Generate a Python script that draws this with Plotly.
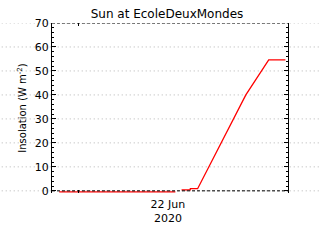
import plotly.graph_objects as go

# Data
times = [
    "2020-06-21 21:20", "2020-06-22 06:00", "2020-06-22 13:00",
    "2020-06-22 13:25",
    "2020-06-22 13:50", "2020-06-22 15:00", "2020-06-22 15:01",
    "2020-06-22 16:00", "2020-06-22 22:30", "2020-06-23 01:35",
    "2020-06-23 03:50",
]
insolation = [-0.4, -0.4, -0.4, None, 0.4, 0.4, 0.9, 0.9, 40.0, 54.6, 54.6]

x_range = ["2020-06-21 20:22", "2020-06-23 04:11"]
y_range = [-0.9, 70]
y_ticks = [0, 10, 20, 30, 40, 50, 60, 70]
x_label_vals = ["2020-06-22 12:00"]
x_label_text = ["22 Jun<br>2020"]
x_minor_vals = ["2020-06-22 00:00"]

FONT = "DejaVu Sans"

fig = go.Figure()
fig.add_trace(go.Scatter(
    x=times, y=insolation, mode="lines",
    line=dict(color="#ff0000", width=1.3),
    connectgaps=False, showlegend=False,
))
# invisible trace to make the top axis render
fig.add_trace(go.Scatter(x=x_range, y=[None, None], xaxis="x2",
                         mode="lines", showlegend=False, hoverinfo="skip"))

# extended dotted grid lines across the whole picture
for v in y_ticks:
    fig.add_shape(type="line", xref="paper", yref="y",
                  x0=-0.23, x1=1.14, y0=v, y1=v,
                  line=dict(color="#b4b4b4", width=1, dash="1px,3px"),
                  layer="below")
# dashed top/bottom borders
for yy in (y_ticks[0], y_ticks[-1]):
    fig.add_shape(type="line", xref="paper", yref="y",
                  x0=0, x1=1, y0=yy, y1=yy,
                  line=dict(color="black", width=1, dash="3px,2px"),
                  layer="above")

fig.update_layout(
    width=320, height=240,
    margin=dict(l=52, r=32, t=23, b=47),
    paper_bgcolor="white", plot_bgcolor="white",
    font=dict(family=FONT, size=10, color="black"),
    title=dict(text="Sun at EcoleDeuxMondes", x=167/320, xref="container",
               xanchor="center", y=1 - 14/240, yref="container",
               yanchor="middle", font=dict(size=12, family=FONT)),
    xaxis2=dict(type="date", range=x_range, overlaying="x", side="top",
                showticklabels=False, ticks="", showgrid=False,
                zeroline=False, showline=False,
                minor=dict(tickmode="array", tickvals=x_minor_vals,
                           ticks="inside", ticklen=3, tickcolor="black",
                           tickwidth=1, showgrid=False)),
)
fig.update_xaxes(
    selector=dict(anchor="y"),
)
fig.layout.xaxis.update(
    type="date", range=x_range,
    tickmode="array", tickvals=x_label_vals, ticktext=x_label_text,
    ticks="", ticklen=0, showgrid=False, zeroline=False, showline=False,
    ticklabelstandoff=3,
    minor=dict(tickmode="array", tickvals=x_minor_vals, ticks="inside",
               ticklen=3, tickcolor="black", tickwidth=1, showgrid=False),
    tickfont=dict(size=11, family=FONT),
)
fig.update_yaxes(
    range=y_range, tickmode="array", tickvals=y_ticks,
    ticks="inside", ticklen=4, tickcolor="black", tickwidth=1,
    showline=True, linecolor="black", linewidth=1, mirror="ticks",
    showgrid=False, zeroline=False,
    minor=dict(tick0=0, dtick=2, ticks="inside", ticklen=2,
               tickcolor="black", tickwidth=1, showgrid=False),
    tickfont=dict(size=11, family=FONT),
    title=dict(text="Insolation (W m<sup>-2</sup>)", standoff=6,
               font=dict(size=10, family=FONT)),
)

fig.write_html("out.html")
